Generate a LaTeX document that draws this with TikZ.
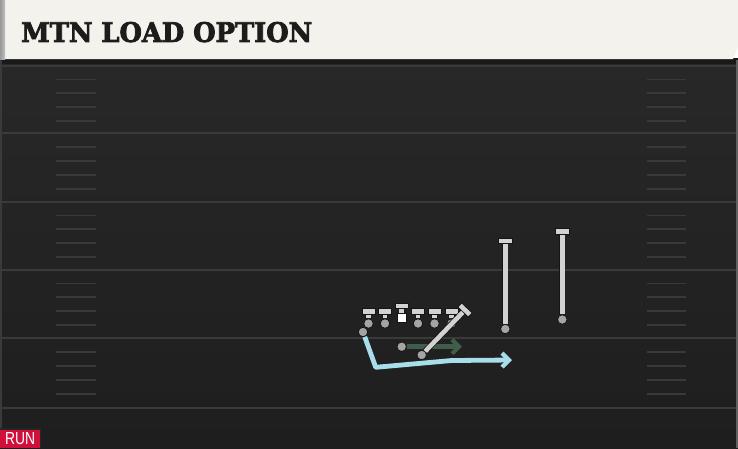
\documentclass[tikz,border=0pt]{standalone}
\usepackage{fontspec}
\usetikzlibrary{arrows.meta,calc}
\newfontfamily\headfont[UprightFont={* Bold}, FakeBold=3]{DejaVu Serif}
\newfontfamily\runfont{Liberation Sans}
\definecolor{cream}{HTML}{F4F2EC}
\definecolor{fieldtop}{HTML}{282828}
\definecolor{fieldbot}{HTML}{1E1E1E}
\definecolor{yardline}{HTML}{3A3A3A}
\definecolor{hashc}{HTML}{393939}
\definecolor{pgray}{HTML}{D2D2D2}
\definecolor{bgray}{HTML}{A4A4A4}
\definecolor{pout}{HTML}{151515}
\definecolor{routeblue}{HTML}{A8DDEA}
\definecolor{routegreen}{HTML}{3E5D4A}
\definecolor{runred}{HTML}{D0103A}
\definecolor{headtxt}{HTML}{1C1C1C}
\tikzset{
  yardl/.style={draw=yardline, line width=2pt},
  hashl/.style={draw=hashc, line width=1.8pt},
  ball/.style={circle, fill=bgray, draw=pout, line width=0.8pt, minimum size=9.5pt, inner sep=0pt},
  tstem/.style={draw=pout, double=pgray, double distance=4.6pt, line width=0.8pt},
  tbar/.style={fill=pgray, draw=pout, line width=0.8pt},
  blueroute/.style={draw=routeblue, line width=4.8pt, line join=round, -{Straight Barb[length=7pt,width=14pt,line width=4.2pt]}},
  greenroute/.style={draw=routegreen, line width=5pt, -{Straight Barb[length=7pt,width=14pt,line width=4.2pt]}},
  centersq/.style={rectangle, fill=white, draw=pout, line width=0.8pt, minimum width=9pt, minimum height=8.5pt, inner sep=0pt}
}
\begin{document}
\begin{tikzpicture}[x=1pt,y=-1pt]
\useasboundingbox (0,0) rectangle (738,448);
% field
\shade[top color=fieldtop, bottom color=fieldbot] (0,58) rectangle (738,448);
\fill[black!90] (0,58) rectangle (738,64);
% side edges
\fill[yardline] (0,60) rectangle (2,448);
\fill[yardline!80] (736,60) rectangle (738,448);
% yard lines
\foreach \y in {65.5,133,201.5,269.5,338,408}{
  \draw[yardl] (2,\y) -- (736,\y);
}
% hash marks
\foreach \y in {65.5,133,201.5,269.5,338}{
  \foreach \k in {1,2,3,4}{
    \draw[hashl] (56,\y+13.9*\k) -- (96,\y+13.9*\k);
    \draw[hashl] (647,\y+13.9*\k) -- (686,\y+13.9*\k);
  }
}
% header
\fill[cream] (0,0) -- (738,0) -- (738,47) -- (733,59) -- (0,59) -- cycle;
\shade[left color=black!40, right color=black!25] (0,0) rectangle (5,59);
\node[anchor=south west, inner sep=0pt, text=headtxt] (title) at (21,42.5)
  {\resizebox{291pt}{20pt}{\headfont MTN LOAD OPTION}};
% RUN tag
\fill[black!85] (0,428) rectangle (41,448);
\node[fill=runred, anchor=south west, minimum width=40pt, minimum height=18pt, inner sep=0pt] (runbox) at (0,448) {};
\node[text=white, inner sep=0pt] (runtxt) at (runbox.center) {\resizebox{30pt}{12pt}{\runfont RUN}};

% routes under players
\node[ball] (rb) at (363,332) {};
\coordinate (rbcut) at (375.7,367.3);
\coordinate (rbbend) at (451.7,360.5);
\coordinate (rbend) at (512,360);
\draw[blueroute] (rb) -- (rbcut) -- (rbbend) -- (rbend);

\node[ball] (gball) at (401.7,346.7) {};
\coordinate (gend) at (462,346.7);
\draw[greenroute] (gball) -- (gend);

% offensive line (T players)
\foreach \n/\x in {lt/368.5,lg/385,rg/418,rt/434.5,te/451.5}{
  \coordinate (\n top) at (\x,311.5);
  \node[ball] (\n) at (\x,323.5) {};
  \draw[tstem] (\n.north) -- (\n top);
  \filldraw[tbar] ($(\n top)+(-6.5,-2.8)$) rectangle ($(\n top)+(6.5,2.8)$);
}
% center
\node[centersq] (c) at (401.7,318) {};
\coordinate (ctop) at (401.7,306);
\draw[tstem] (c.north) -- (ctop);
\filldraw[tbar] ($(ctop)+(-6.5,-2.8)$) rectangle ($(ctop)+(6.5,2.8)$);

% diagonal block
\node[ball] (db) at (421.7,355) {};
\coordinate (dtop) at (465,310);
\draw[tstem] (db) -- (dtop);
\draw[draw=pout, line width=6.2pt] ($(dtop)!7.4pt!90:(db)$) -- ($(dtop)!7.4pt!-90:(db)$);
\draw[draw=pgray, line width=4.6pt] ($(dtop)!6.6pt!90:(db)$) -- ($(dtop)!6.6pt!-90:(db)$);

% receivers
\node[ball] (wr1) at (505.3,329) {};
\coordinate (wr1top) at (505.3,241);
\draw[tstem] (wr1) -- (wr1top);
\filldraw[tbar] ($(wr1top)+(-6.8,-2.8)$) rectangle ($(wr1top)+(6.8,2.8)$);

\node[ball] (wr2) at (562.3,319.5) {};
\coordinate (wr2top) at (562.3,231.5);
\draw[tstem] (wr2) -- (wr2top);
\filldraw[tbar] ($(wr2top)+(-6.8,-2.8)$) rectangle ($(wr2top)+(6.8,2.8)$);
\end{tikzpicture}
\end{document}
